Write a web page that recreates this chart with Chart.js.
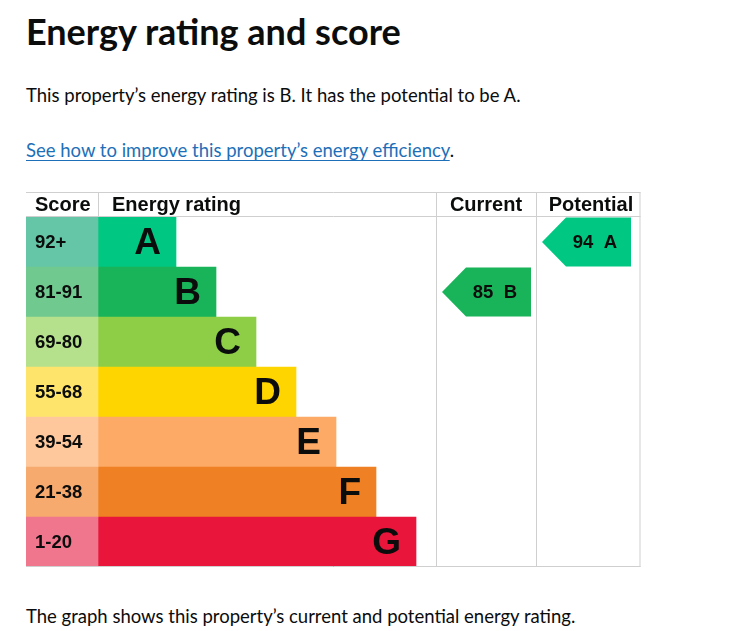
<!DOCTYPE html>
<html>
<head>
<meta charset="utf-8">
<script src="https://cdn.jsdelivr.net/npm/chart.js@4.4.0/dist/chart.umd.min.js"></script>
<style>
  body { margin: 0; background: #fff; color: #0b0c0c; font-family: Lato, "Noto Sans", sans-serif; }
  h1 { position: absolute; left: 26px; top: 9px; margin: 0; font-size: 36px; font-weight: 700; }
  p { position: absolute; left: 26px; margin: 0; font-size: 18.5px; }
  a { color: #1d70b8; text-decoration: underline; text-underline-offset: 3px; }
  #wrap { position: absolute; left: 26px; top: 192px; width: 615px; height: 376px; }
</style>
</head>
<body>
<h1>Energy rating and score</h1>
<p style="top:84px">This property’s energy rating is B. It has the potential to be A.</p>
<p style="top:139px"><a href="#">See how to improve this property’s energy efficiency</a>.</p>
<div id="wrap"><canvas id="epc-chart"></canvas></div>
<p style="top:605px">The graph shows this property’s current and potential energy rating.</p>

<script>
const ratings = ['A', 'B', 'C', 'D', 'E', 'F', 'G'];
const scoreRanges = ['92+', '81-91', '69-80', '55-68', '39-54', '21-38', '1-20'];
const bandColors = ['#00c781', '#19b459', '#8dce46', '#ffd500', '#fcaa65', '#ef8023', '#e9153b'];
const scoreColors = ['#64c6a6', '#70c98f', '#b5e08c', '#ffe46b', '#fec89c', '#f6aa6e', '#f0768d'];
const currentScore = 85;
const currentRating = 'B';
const potentialScore = 94;
const potentialRating = 'A';

// layout of the table, in pixels of the chart (x scale is 1 unit = 1px)
const scoreCol = 72;
const barBase = 78;
const barStep = 40;
const currentCol = [410, 510, 5];
const potentialCol = [510, 614, 9];
const headerH = 25;
const lineColor = '#cfcfcf';

const scoreBars = ratings.map(() => [0, scoreCol]);
const ratingBars = ratings.map((r, i) => [scoreCol, scoreCol + barBase + barStep * i]);

const tablePlugin = {
    id: 'epcTable',
    afterDatasetsDraw(chart) {
        const ctx = chart.ctx;
        const x = chart.scales.x;
        const y = chart.scales.y;
        const left = x.getPixelForValue(0);
        const right = x.getPixelForValue(614) + 0.5;
        const bottom = chart.chartArea.bottom;
        ctx.save();

        // row labels
        ctx.fillStyle = '#0b0c0c';
        ctx.textBaseline = 'middle';
        ratings.forEach((r, i) => {
            const cy = y.getPixelForValue(i);
            ctx.font = 'bold 18.5px "Liberation Sans", Arial, sans-serif';
            ctx.textAlign = 'left';
            ctx.fillText(scoreRanges[i], left + 9, cy + 1);
            ctx.font = 'bold 37px "Liberation Sans", Arial, sans-serif';
            ctx.textAlign = 'right';
            ctx.fillText(r, x.getPixelForValue(ratingBars[i][1]) - 15, cy + 2);
        });

        // arrows
        const arrow = (col, score, rating) => {
            const i = ratings.indexOf(rating);
            const top = y.getPixelForValue(i) - 24.5;
            const h = 49;
            const tip = x.getPixelForValue(col[0]) + 6;
            const end = x.getPixelForValue(col[1]) - col[2];
            ctx.fillStyle = bandColors[i];
            ctx.beginPath();
            ctx.moveTo(tip, top + h / 2);
            ctx.lineTo(tip + 24, top);
            ctx.lineTo(end, top);
            ctx.lineTo(end, top + h);
            ctx.lineTo(tip + 24, top + h);
            ctx.closePath();
            ctx.fill();
            ctx.fillStyle = '#0b0c0c';
            ctx.font = 'bold 18.5px "Liberation Sans", Arial, sans-serif';
            ctx.textAlign = 'right';
            ctx.fillText(score + '  ' + rating, end - 14, top + h / 2 + 1);
        };
        arrow(currentCol, currentScore, currentRating);
        arrow(potentialCol, potentialScore, potentialRating);

        // header
        ctx.font = 'bold 20px "Liberation Sans", Arial, sans-serif';
        ctx.textAlign = 'left';
        ctx.fillText('Score', left + 9, 13.5);
        ctx.fillText('Energy rating', x.getPixelForValue(scoreCol) + 14, 13.5);
        ctx.textAlign = 'center';
        ctx.fillText('Current', x.getPixelForValue((currentCol[0] + currentCol[1]) / 2), 13.5);
        ctx.fillText('Potential', x.getPixelForValue((potentialCol[0] + potentialCol[1]) / 2) + 3, 13.5);

        // grid lines
        ctx.strokeStyle = lineColor;
        ctx.lineWidth = 1;
        ctx.beginPath();
        ctx.moveTo(left, 0.5); ctx.lineTo(right, 0.5);
        ctx.moveTo(left, headerH - 0.5); ctx.lineTo(right, headerH - 0.5);
        ctx.moveTo(left, bottom - 0.5); ctx.lineTo(right, bottom - 0.5);
        const sx = Math.round(x.getPixelForValue(scoreCol)) + 0.5;
        ctx.moveTo(sx, 0); ctx.lineTo(sx, headerH);
        [currentCol[0], potentialCol[0]].forEach(v => {
            const px = Math.round(x.getPixelForValue(v)) + 0.5;
            ctx.moveTo(px, 0); ctx.lineTo(px, bottom);
        });
        ctx.moveTo(right - 0.5, 0); ctx.lineTo(right - 0.5, bottom);
        ctx.stroke();
        ctx.restore();
    }
};

new Chart(document.getElementById('epc-chart'), {
    type: 'bar',
    data: {
        labels: ratings,
        datasets: [{
            label: 'Score',
            data: scoreBars,
            backgroundColor: scoreColors,
            barPercentage: 1,
            categoryPercentage: 1
        }, {
            label: 'Energy rating',
            data: ratingBars,
            backgroundColor: bandColors,
            barPercentage: 1,
            categoryPercentage: 1
        }]
    },
    options: {
        indexAxis: 'y',
        responsive: true,
        maintainAspectRatio: false,
        animation: false,
        layout: { padding: { top: headerH, bottom: 1, left: 0, right: 0 } },
        scales: {
            x: { type: 'linear', min: 0, max: 615, display: false },
            y: { stacked: true, display: false, grid: { display: false } }
        },
        plugins: {
            legend: { display: false },
            tooltip: { enabled: false }
        }
    },
    plugins: [tablePlugin]
});
</script>
</body>
</html>
